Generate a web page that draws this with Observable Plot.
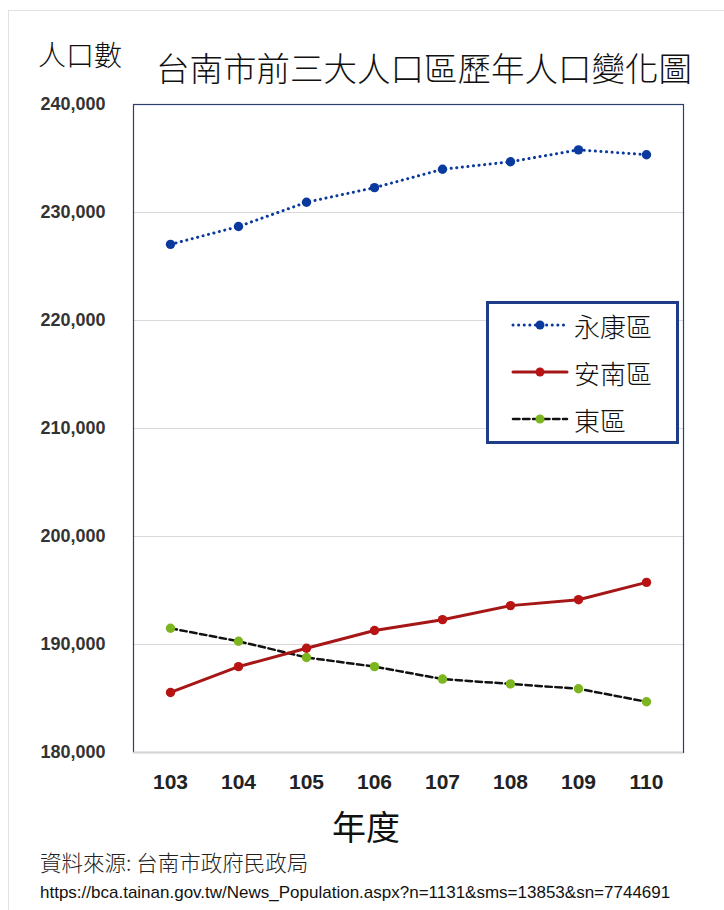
<!DOCTYPE html>
<html>
<head>
<meta charset="utf-8">
<script src="https://cdn.jsdelivr.net/npm/d3@7"></script>
<script src="https://cdn.jsdelivr.net/npm/@observablehq/plot@0.6"></script>
<style>
  html, body { margin: 0; padding: 0; background: #fff; }
  #wrap { position: relative; width: 724px; height: 910px; overflow: hidden; background: #fff; }
  #page { position: absolute; left: 8px; top: 10px; width: 716px; height: 900px; border-top: 1px solid #e2e2e2; border-left: 1px solid #e2e2e2; }
  .t { position: absolute; white-space: nowrap; color: #111; font-family: "Noto Sans CJK TC", "Noto Sans", sans-serif; line-height: 1; }
  #chart { position: absolute; left: 0; top: 0; }
  #legend { position: absolute; left: 486px; top: 301px; width: 187px; height: 137px; border: 3px solid #1f3c88; background: #fff; box-sizing: content-box; }
  .row { position: absolute; left: 22px; height: 30px; display: flex; align-items: center; font-family: "Noto Sans CJK TC", sans-serif; font-size: 26px; font-weight: 300; color: #111; }
  .row svg { margin-right: 5px; }
</style>
</head>
<body>
<div id="wrap">
  <div id="page"></div>
  <div id="chart"></div>
  <div class="t" style="left:38px; top:40px; font-size:28px; font-weight:300;">人口數</div>
  <div class="t" style="left:156px; top:50px; font-size:33.5px; font-weight:300;">台南市前三大人口區歷年人口變化圖</div>
  <div class="t" style="left:332px; top:809px; font-size:34px; font-weight:400;">年度</div>
  <div class="t" style="left:40px; top:851px; font-size:21.5px; font-weight:300; color:#222;">資料來源: 台南市政府民政局</div>
  <div class="t" style="left:40px; top:884px; font-size:17px; font-family:'Liberation Sans Narrow','Liberation Sans',sans-serif; color:#111;">https://bca.tainan.gov.tw/News_Population.aspx?n=1131&amp;sms=13853&amp;sn=7744691</div>
  <div id="legend"></div>
</div>
<script>
const years = ["103", "104", "105", "106", "107", "108", "109", "110"];
const yongkang = [227050, 228700, 230950, 232300, 234000, 234700, 235800, 235350];
const annan = [185560, 187950, 189650, 191300, 192300, 193600, 194150, 195750];
const east = [191500, 190300, 188800, 187950, 186800, 186350, 185900, 184700];
const yTicks = [180000, 190000, 200000, 210000, 220000, 230000, 240000];
const seriesNames = ["永康區", "安南區", "東區"];

const styles = {
  "永康區": {stroke: "#0b3a9e", dot: "#0b3a9e", width: 3, dash: "0.1,5.5"},
  "安南區": {stroke: "#a61616", dot: "#b81414", width: 3, dash: null},
  "東區": {stroke: "#111111", dot: "#7cb51f", width: 2.5, dash: "6.5,3.5"}
};

const seriesValues = [yongkang, annan, east];
const data = seriesNames.flatMap((name, s) =>
  years.map((year, i) => ({year, district: name, value: seriesValues[s][i]}))
);

const marks = [
  Plot.gridY(yTicks, {stroke: "#d9d9d9", strokeOpacity: 1, strokeWidth: 1}),
  Plot.frame({stroke: "#2a3f6e", strokeWidth: 1.2}),
  Plot.ruleY([180000], {stroke: "#d4d4d4", strokeWidth: 1.5}),
  Plot.axisY(yTicks, {tickSize: 0, tickPadding: 28, tickFormat: d3.format(","), fontSize: 18, fontWeight: "bold", fill: "#333", fontFamily: "Liberation Sans, Arial, sans-serif", label: null}),
  Plot.axisX(years, {tickSize: 0, tickPadding: 22, fontSize: 21, fontWeight: "bold", fill: "#222", fontFamily: "Liberation Sans, Arial, sans-serif", label: null})
];
for (const name of ["東區", "安南區", "永康區"]) {
  const st = styles[name];
  const d = data.filter(r => r.district === name);
  marks.push(Plot.line(d, {x: "year", y: "value", stroke: st.stroke, strokeWidth: st.width, strokeDasharray: st.dash, strokeLinecap: "round"}));
  marks.push(Plot.dot(d, {x: "year", y: "value", r: 4.7, fill: st.dot, stroke: "none"}));
}

const chart = Plot.plot({
  width: 724,
  height: 910,
  marginLeft: 133,
  marginRight: 41,
  marginTop: 104,
  marginBottom: 158,
  style: {background: "transparent", overflow: "visible"},
  x: {type: "point", domain: years, padding: 0.5, label: null},
  y: {domain: [180000, 240000], label: null},
  marks
});
document.getElementById("chart").appendChild(chart);

// Legend
const legend = document.getElementById("legend");
seriesNames.forEach((name, i) => {
  const st = styles[name];
  const row = document.createElement("div");
  row.className = "row";
  row.style.top = (6 + i * 47) + "px";
  const svg = d3.create("svg").attr("width", 58).attr("height", 20);
  svg.append("line").attr("x1", 2).attr("x2", 56).attr("y1", 10).attr("y2", 10)
    .attr("stroke", st.stroke).attr("stroke-width", st.width)
    .attr("stroke-dasharray", st.dash).attr("stroke-linecap", "round");
  svg.append("circle").attr("cx", 29).attr("cy", 10).attr("r", 4.5).attr("fill", st.dot);
  row.appendChild(svg.node());
  const span = document.createElement("span");
  span.textContent = name;
  row.appendChild(span);
  legend.appendChild(row);
});
</script>
</body>
</html>
